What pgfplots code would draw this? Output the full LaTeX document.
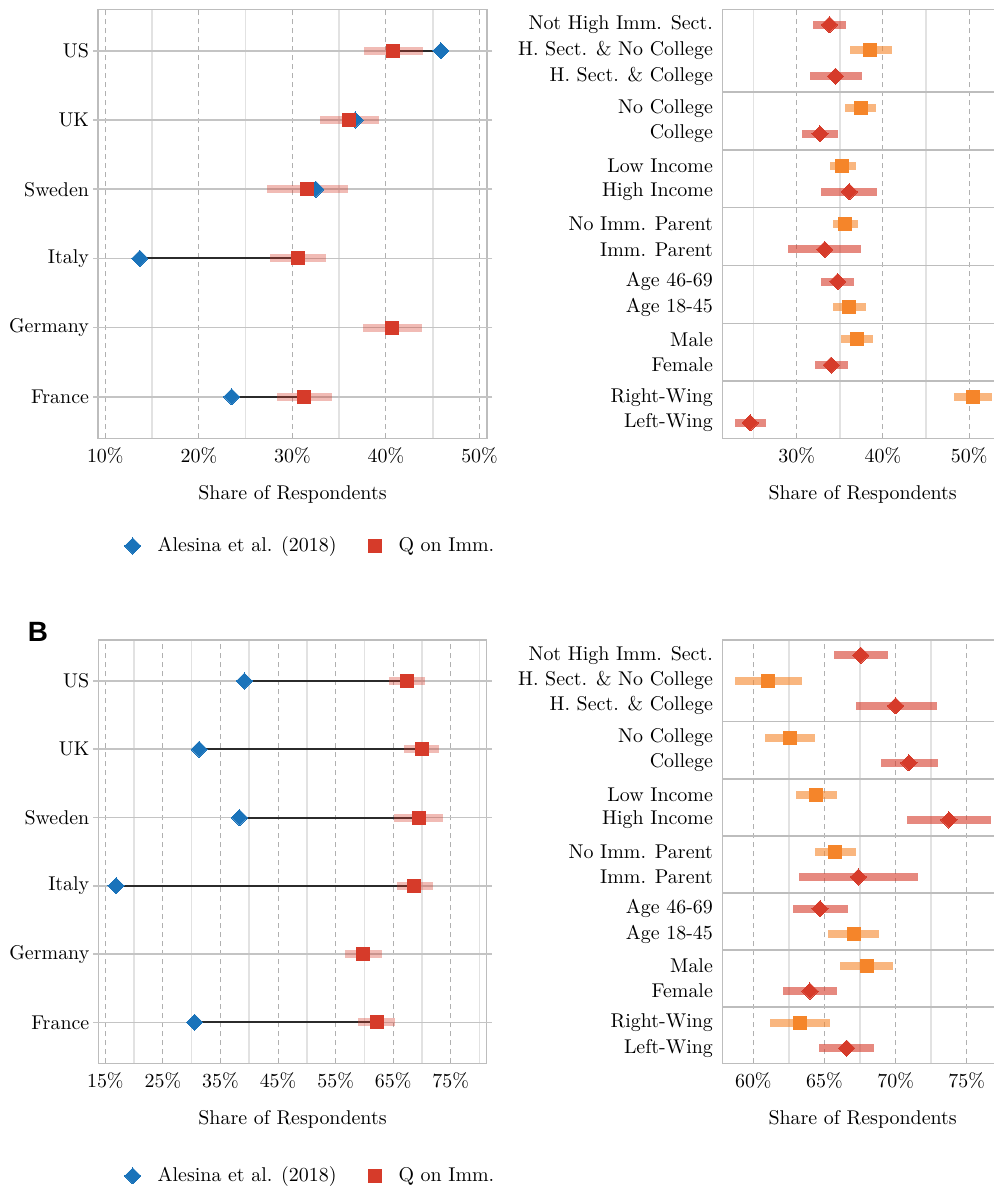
\documentclass[border=0pt]{standalone}
\usepackage{fontspec}
\usepackage{pgfplots}
\usepackage{pgfplotstable}
\pgfplotsset{compat=1.18}
\newfontfamily\labelfont{Liberation Sans}
\definecolor{cblue}{HTML}{1A73BA}
\definecolor{cred}{HTML}{D63B2A}
\definecolor{corange}{HTML}{F5852A}
\definecolor{spine}{HTML}{BDBDBD}
\definecolor{dashg}{HTML}{B0B0B0}
\definecolor{minorg}{HTML}{E2E2E2}
\definecolor{rowg}{HTML}{C4C4C4}
\definecolor{lineg}{HTML}{2B2B2B}

% country panels: q = Q on Imm., lo/hi = CI, a = Alesina et al. (2018)
\pgfplotstableread{
c q lo hi a y
US 40.8 37.6 44.0 45.87 5
UK 36.1 33.0 39.3 36.7 4
Sweden 31.6 27.3 35.9 32.5 3
Italy 30.6 27.6 33.6 13.7 2
Germany 40.6 37.5 43.8 nan 1
France 31.25 28.3 34.2 23.5 0
}\cA
\pgfplotstableread{
c q lo hi a y
US 67.35 64.3 70.5 39.15 5
UK 69.96 66.9 73.0 31.3 4
Sweden 69.5 65.2 73.6 38.3 3
Italy 68.7 65.6 71.9 16.86 2
Germany 59.8 56.6 63.0 nan 1
France 62.2 58.95 65.3 30.5 0
}\cB
% subgroup panels
\pgfplotstableread{
v lo hi y
33.8 31.9 35.7 15.5
34.5 31.5 37.6 13.5
32.7 30.65 34.75 11.25
36.1 32.8 39.3 9
33.25 29.0 37.5 6.75
34.75 32.8 36.7 5.5
34.0 32.1 35.9 2.25
24.6 22.8 26.4 0
}\rA
\pgfplotstableread{
v lo hi y
38.5 36.2 41.0 14.5
37.4 35.6 39.2 12.25
35.3 33.9 36.85 10
35.6 34.25 37.1 7.75
36.1 34.25 38.0 4.5
37.0 35.1 38.9 3.25
50.4 48.2 52.6 1
}\oA
\pgfplotstableread{
v lo hi y
67.55 65.7 69.45 15.5
70.0 67.2 72.93 13.5
70.94 68.97 72.96 11.25
73.75 70.78 76.73 9
67.38 63.23 71.57 6.75
64.69 62.79 66.63 5.5
63.98 62.11 65.9 2.25
66.56 64.64 68.5 0
}\rB
\pgfplotstableread{
v lo hi y
61.05 58.73 63.42 14.5
62.6 60.84 64.34 12.25
64.43 63.02 65.9 10
65.76 64.36 67.2 7.75
67.05 65.27 68.83 4.5
67.97 66.11 69.82 3.25
63.28 61.17 65.39 1
}\oB

\pgfplotsset{
  base/.style={
    scale only axis, anchor=south west,
    axis line style={draw=spine, line width=0.75bp},
    tick align=outside, major tick length=2.5bp, minor tick length=0pt,
    xtick style={draw=none},
    xticklabel={$\pgfmathprintnumber{\tick}\%$},
    xticklabel style={yshift=1.5bp},
    xmajorgrids=true, xminorgrids=true,
    major grid style={dash pattern=on 2.5bp off 2bp, draw=dashg, line width=0.5bp},
    minor grid style={solid, draw=minorg, line width=0.8bp},
    xlabel={Share of Respondents},
    xlabel style={at={(axis description cs:0.5,0)}, anchor=base, yshift=-30.8bp},
    clip=false,
  },
  leftp/.style={
    base,
    ymin=-0.6, ymax=5.6,
    ytick={0,1,2,3,4,5},
    yticklabels={France,Germany,Italy,Sweden,UK,US},
    ytick style={draw=rowg, line width=0.8bp},
    yticklabel style={xshift=1.5bp},
    extra y ticks={0,1,2,3,4,5}, extra y tick labels={},
    extra y tick style={grid=major, major grid style={solid, draw=rowg, line width=0.8bp}, tick style={draw=none}},
    legend columns=2,
    legend cell align=left,
    legend style={anchor=west, draw=none, fill=none, inner sep=0pt,
      /tikz/every odd column/.append style={column sep=6.5bp},
      /tikz/every even column/.append style={column sep=14bp}},
    legend image code/.code={\draw[##1] plot coordinates {(0bp,0bp)};},
  },
  rightp/.style={
    base,
    ymin=-0.6, ymax=16.1,
    ytick={0,1,2.25,3.25,4.5,5.5,6.75,7.75,9,10,11.25,12.25,13.5,14.5,15.5},
    yticklabels={Left-Wing,Right-Wing,Female,Male,Age 18-45,Age 46-69,Imm. Parent,No Imm. Parent,High Income,Low Income,College,No College,H. Sect. \& College,H. Sect. \& No College,Not High Imm. Sect.},
    ytick style={draw=none},
    yticklabel style={xshift=1.3bp},
    extra y ticks={1.625,3.875,6.125,8.375,10.625,12.875}, extra y tick labels={},
    extra y tick style={grid=major, major grid style={solid, draw=spine, line width=0.75bp}, tick style={draw=none}},
  },
  ciL/.style={forget plot, draw=none, mark=none, error bars/.cd, x dir=both, x explicit, error mark=none,
    error bar style={line width=4bp, draw=cred, opacity=0.35}},
  ciR/.style={forget plot, draw=none, mark=none, error bars/.cd, x dir=both, x explicit, error mark=none,
    error bar style={line width=4bp, draw=#1, opacity=0.6}},
  conn/.style={forget plot, draw=none, mark=none, error bars/.cd, x dir=plus, x explicit, error mark=none,
    error bar style={line width=1bp, draw=lineg}},
  dia/.style={only marks, mark=square*, mark size=2.85bp, mark options={rotate=45, fill=#1, draw=#1, line width=0pt}},
  sq/.style={only marks, mark=square*, mark size=3.25bp, mark options={fill=#1, draw=#1, line width=0pt}},
}

\begin{document}
\begin{tikzpicture}
\path[use as bounding box] (0,0) rectangle (497bp,594bp);

% ---------- Top left ----------
\begin{axis}[leftp, at={(49bp,374.85bp)}, width=194.5bp, height=214.5bp,
  xmin=9.22, xmax=50.8, xtick={10,20,30,40,50}, minor xtick={15,25,35,45},
  legend style={at={(axis description cs:0.0674,-0.251)}}]
\addplot[conn] table[x=a, y=y, x error plus expr=\thisrow{q}-\thisrow{a}, x error minus expr=0] {\cA};
\addplot[ciL] table[x=q, y=y, x error plus expr=\thisrow{hi}-\thisrow{q}, x error minus expr=\thisrow{q}-\thisrow{lo}] {\cA};
\addplot[dia=cblue] table[x=a, y=y] {\cA};
\addlegendentry{Alesina et al. (2018)}
\addplot[sq=cred] table[x=q, y=y] {\cA};
\addlegendentry{Q on Imm.}
\end{axis}

% ---------- Top right ----------
\begin{axis}[rightp, at={(361.15bp,374.85bp)}, width=140.35bp, height=214.5bp,
  xmin=21.37, xmax=53.93, xtick={30,40,50}, minor xtick={25,35,45}]
\addplot[ciR=cred] table[x=v, y=y, x error plus expr=\thisrow{hi}-\thisrow{v}, x error minus expr=\thisrow{v}-\thisrow{lo}] {\rA};
\addplot[ciR=corange] table[x=v, y=y, x error plus expr=\thisrow{hi}-\thisrow{v}, x error minus expr=\thisrow{v}-\thisrow{lo}] {\oA};
\addplot[dia=cred, forget plot] table[x=v, y=y] {\rA};
\addplot[sq=corange, forget plot] table[x=v, y=y] {\oA};
\end{axis}

% ---------- Bottom left ----------
\begin{axis}[leftp, at={(49.15bp,62.35bp)}, width=194.2bp, height=211.65bp,
  xmin=13.78, xmax=81.25, xtick={15,25,35,45,55,65,75}, minor xtick={20,30,40,50,60,70,80},
  legend style={at={(axis description cs:0.0667,-0.266)}}]
\addplot[conn] table[x=a, y=y, x error plus expr=\thisrow{q}-\thisrow{a}, x error minus expr=0] {\cB};
\addplot[ciL] table[x=q, y=y, x error plus expr=\thisrow{hi}-\thisrow{q}, x error minus expr=\thisrow{q}-\thisrow{lo}] {\cB};
\addplot[dia=cblue] table[x=a, y=y] {\cB};
\addlegendentry{Alesina et al. (2018)}
\addplot[sq=cred] table[x=q, y=y] {\cB};
\addlegendentry{Q on Imm.}
\end{axis}

% ---------- Bottom right ----------
\begin{axis}[rightp, at={(361.15bp,62.35bp)}, width=140.35bp, height=211.65bp,
  xmin=57.82, xmax=77.55, xtick={60,65,70,75}, minor xtick={62.5,67.5,72.5}]
\addplot[ciR=cred] table[x=v, y=y, x error plus expr=\thisrow{hi}-\thisrow{v}, x error minus expr=\thisrow{v}-\thisrow{lo}] {\rB};
\addplot[ciR=corange] table[x=v, y=y, x error plus expr=\thisrow{hi}-\thisrow{v}, x error minus expr=\thisrow{v}-\thisrow{lo}] {\oB};
\addplot[dia=cred, forget plot] table[x=v, y=y] {\rB};
\addplot[sq=corange, forget plot] table[x=v, y=y] {\oB};
\end{axis}

\node[font=\labelfont\bfseries\fontsize{14}{16}\selectfont] at (19bp,278bp) {B};
\end{tikzpicture}
\end{document}
